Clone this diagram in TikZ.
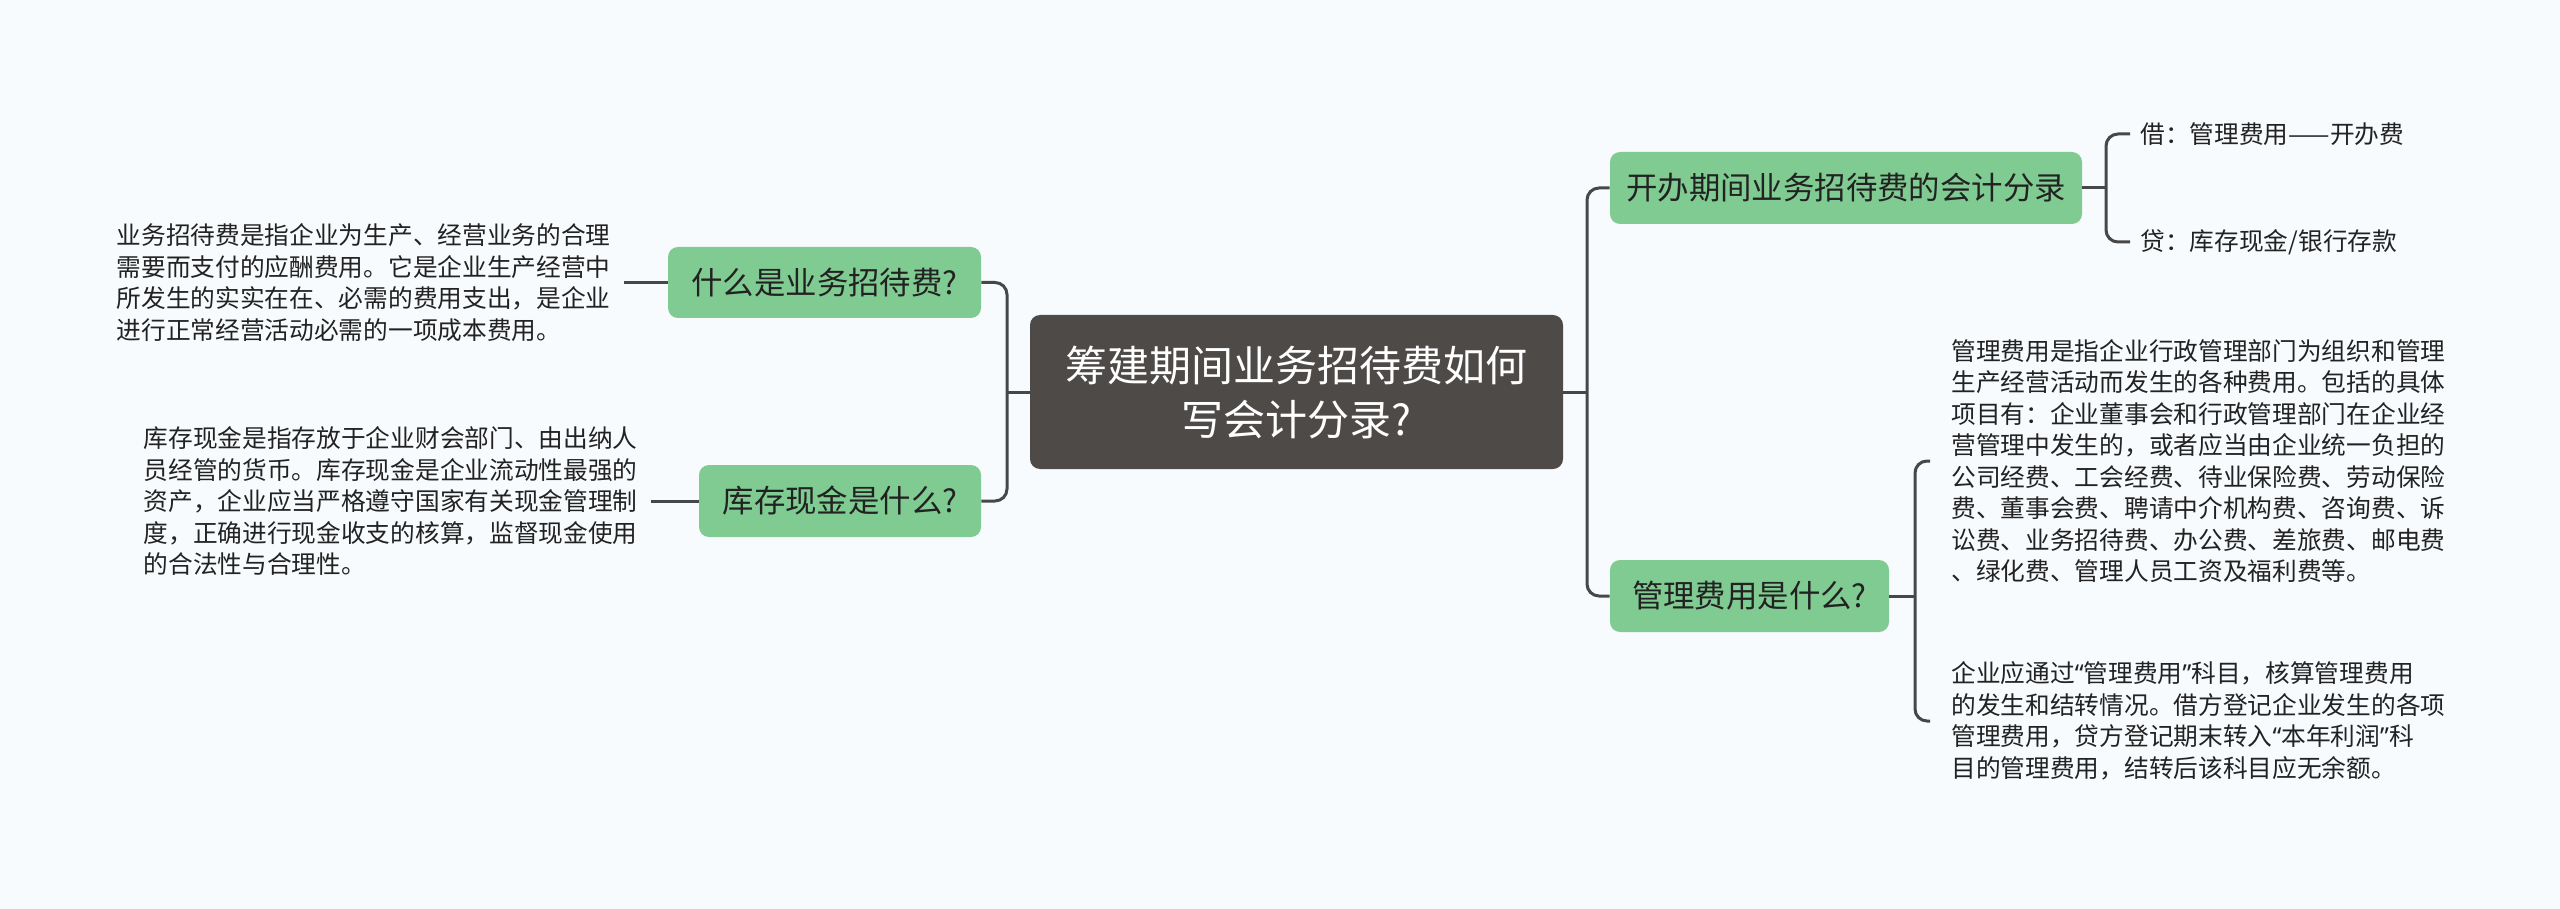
\documentclass[tikz,border=0pt]{standalone}
\usepackage{fontspec}
\setmainfont{Noto Sans CJK SC}
\newfontfamily\latinq{Noto Sans}
\definecolor{bgc}{HTML}{F8FBFD}
\definecolor{nodegreen}{HTML}{80CB91}
\definecolor{centerc}{HTML}{4E4A48}
\definecolor{linec}{HTML}{474747}
\definecolor{textc}{HTML}{222222}
\begin{document}
\begin{tikzpicture}[x=0.5pt,y=-0.5pt,
  conn/.style={draw=linec,line width=1.5pt,rounded corners=6pt},
  topic/.style={fill=nodegreen,rounded corners=5pt,text=textc,font=\fontsize{15.7pt}{19pt}\selectfont,inner sep=0pt,align=center},
  note/.style={text=textc,font=\fontsize{12.35pt}{15.75pt}\selectfont,align=left,inner ysep=0pt}]
\fill[bgc] (0,0) rectangle (2560,909);
\useasboundingbox (0,0) rectangle (2560,909);

% central
\node[fill=centerc,rounded corners=5pt,text=white,inner sep=0pt,align=center,
  minimum width=266.5pt,minimum height=77pt,font=\fontsize{21pt}{27pt}\selectfont]
  (C) at (1296.5,392) {筹建期间业务招待费如何\\写会计分录?};

% topics
\node[topic,minimum width=156.5pt,minimum height=35.5pt] (L1) at (824.5,282.5) {什么是业务招待费?};
\node[topic,minimum width=141pt,minimum height=36pt] (L2) at (840,501) {库存现金是什么?};
\node[topic,minimum width=236pt,minimum height=36pt] (R1) at (1846,188) {开办期间业务招待费的会计分录};
\node[topic,minimum width=139.5pt,minimum height=36pt] (R2) at (1749.5,596) {管理费用是什么?};

% notes
\node[note,anchor=east,inner xsep=6.5pt] (T1) at (624,282.5) {业务招待费是指企业为生产、经营业务的合理\\需要而支付的应酬费用。它是企业生产经营中\\所发生的实实在在、必需的费用支出，是企业\\进行正常经营活动必需的一项成本费用。};
\node[note,anchor=east,inner xsep=6.5pt] (T2) at (651,501) {库存现金是指存放于企业财会部门、由出纳人\\员经管的货币。库存现金是企业流动性最强的\\资产，企业应当严格遵守国家有关现金管理制\\度，正确进行现金收支的核算，监督现金使用\\的合法性与合理性。};
\node[note,anchor=west,inner xsep=10.5pt] (T3) at (1930,461) {管理费用是指企业行政管理部门为组织和管理\\生产经营活动而发生的各种费用。包括的具体\\项目有：企业董事会和行政管理部门在企业经\\营管理中发生的，或者应当由企业统一负担的\\公司经费、工会经费、待业保险费、劳动保险\\费、董事会费、聘请中介机构费、咨询费、诉\\讼费、业务招待费、办公费、差旅费、邮电费\\、绿化费、管理人员工资及福利费等。};
\node[note,anchor=west,inner xsep=10.5pt] (T4) at (1930,721) {企业应通过{\latinq “}管理费用{\latinq ”}科目，核算管理费用\\的发生和结转情况。借方登记企业发生的各项\\管理费用，贷方登记期末转入{\latinq “}本年利润{\latinq ”}科\\目的管理费用，结转后该科目应无余额。};
\node[note,anchor=west,inner xsep=5pt] (D1) at (2130,134) {借：管理费用——开办费};
\node[note,anchor=west,inner xsep=5pt] (D2) at (2130,242) {贷：库存现金/银行存款};

% junctions
\coordinate (jl) at (1007,392);
\coordinate (jr) at (1587,392);
\coordinate (jb1) at (2106,188);
\coordinate (jb2) at (1915,596);

% connectors
\draw[conn] (C.west) -- (jl);
\draw[conn] (L1.east) -| (jl) |- (L2.east);
\draw[conn] (C.east) -- (jr);
\draw[conn] (R1.west) -| (jr) |- (R2.west);
\draw[conn] (R1.east) -- (jb1);
\draw[conn] (D1.west) -| (jb1) |- (D2.west);
\draw[conn] (R2.east) -- (jb2);
\draw[conn] (T3.west) -| (jb2) |- (T4.west);
\draw[conn] (L1.west) -- (T1.east);
\draw[conn] (L2.west) -- (T2.east);
\end{tikzpicture}
\end{document}
